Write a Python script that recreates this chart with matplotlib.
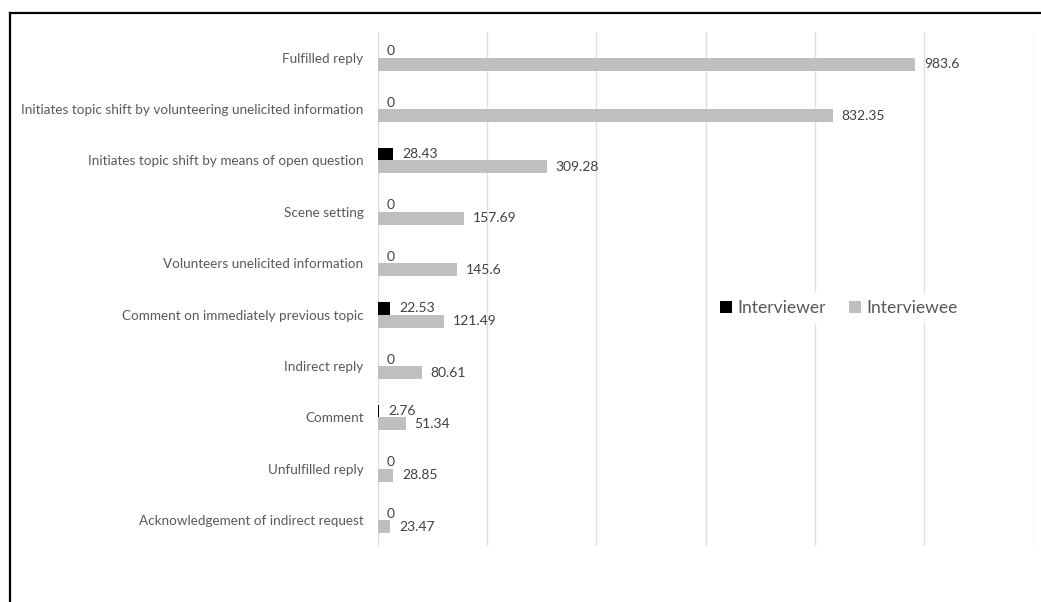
import matplotlib
matplotlib.use("Agg")
import matplotlib.pyplot as plt
from matplotlib.lines import Line2D
import numpy as np

plt.rcParams['font.family'] = ['Lato', 'DejaVu Sans']

categories = ["Fulfilled reply",
              "Initiates topic shift by volunteering unelicited information",
              "Initiates topic shift by means of open question",
              "Scene setting",
              "Volunteers unelicited information",
              "Comment on immediately previous topic",
              "Indirect reply",
              "Comment",
              "Unfulfilled reply",
              "Acknowledgement of indirect request"]
interviewer = [0, 0, 28.43, 0, 0, 22.53, 0, 2.76, 0, 0]
interviewee = [983.6, 832.35, 309.28, 157.69, 145.6, 121.49, 80.61, 51.34, 28.85, 23.47]

W, H = 1041, 602
fig = plt.figure(figsize=(W / 100, H / 100), dpi=100)
ax = fig.add_axes([377.5 / W, 1 - 546 / H, 656 / W, 514 / H])

y = np.arange(len(categories))
h = 0.25
b1 = ax.barh(y - h / 2, interviewer, height=h, color='black', label='Interviewer')
b2 = ax.barh(y + h / 2, interviewee, height=h, color='#bfbfbf', label='Interviewee')

ax.bar_label(b1, fmt='%g', padding=6.5, fontsize=10, color='#404040')
ax.bar_label(b2, fmt='%g', padding=6.5, fontsize=10, color='#404040')

ax.set_xlim(0, 1200)
ax.set_ylim(len(categories) - 0.5, -0.5)
ax.set_xticks(np.arange(0, 1201, 200))
ax.set_xticklabels([])
ax.tick_params(axis='x', length=0)
ax.set_yticks(y)
ax.set_yticklabels(categories, fontsize=9.7, color='#595959')
ax.tick_params(axis='y', length=0, pad=10)
ax.grid(axis='x', color='#e0e0e0', linewidth=1)
ax.set_axisbelow(True)
for s in ax.spines.values():
    s.set_visible(False)

leg = ax.legend(loc='center', bbox_to_anchor=(0.703, 0.463), ncol=2, frameon=True,
                fontsize=12.6, handlelength=0.7, handleheight=0.7, handletextpad=0.3,
                columnspacing=1.3, borderpad=0.4)
leg.get_frame().set_edgecolor('none')
leg.get_frame().set_facecolor('white')
leg.get_frame().set_alpha(1)
for t in leg.get_texts():
    t.set_color('#595959')

# outer border of the chart (cropped on right and bottom)
fig.add_artist(Line2D([10 / W, 10 / W], [0, 1 - 13 / H], color='black', linewidth=1.6,
                      transform=fig.transFigure))
fig.add_artist(Line2D([10 / W, 1], [1 - 13 / H, 1 - 13 / H], color='black', linewidth=1.6,
                      transform=fig.transFigure))

plt.savefig('out.png', dpi=100)
